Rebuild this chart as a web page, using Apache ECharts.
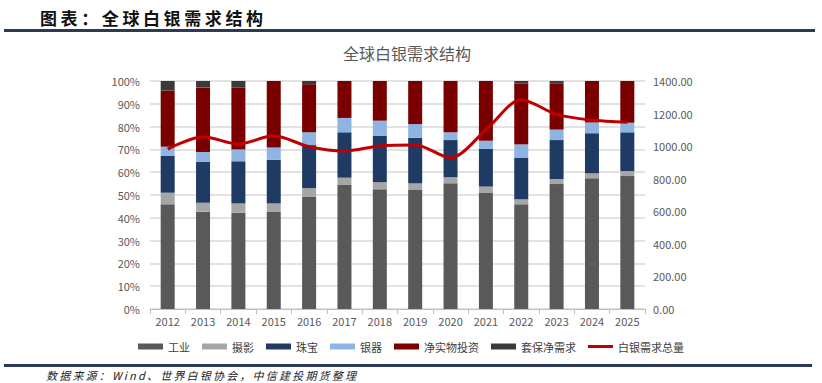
<!DOCTYPE html>
<html><head><meta charset="utf-8">
<script src="https://cdn.jsdelivr.net/npm/echarts@6/dist/echarts.min.js"></script>
<style>
html,body{margin:0;padding:0;background:#fff;}
#wrap{position:relative;width:822px;height:383px;overflow:hidden;}
#chart{position:absolute;left:0;top:0;width:822px;height:383px;}
#hdr{position:absolute;left:40px;top:6px;font-family:"Noto Sans CJK SC";font-weight:bold;font-size:17px;letter-spacing:3.6px;color:#111;line-height:24px;}
#hline{position:absolute;left:4px;top:29px;width:811px;height:3px;background:#2b3a57;}
#fline{position:absolute;left:4px;top:364px;width:808px;height:3px;background:#2b3a57;}
#src{position:absolute;left:46px;top:367px;font-family:"Noto Sans CJK SC";font-style:italic;font-size:11px;letter-spacing:2.2px;color:#222;line-height:16px;}
</style></head>
<body><div id="wrap">
<div id="chart"></div>
<div id="hdr">图表：全球白银需求结构</div>
<div id="hline"></div>
<div id="fline"></div>
<div id="src">数据来源：Wind、世界白银协会，中信建投期货整理</div>
</div>
<script>
const years = ['2012','2013','2014','2015','2016','2017','2018','2019','2020','2021','2022','2023','2024','2025'];
const industrial = [45.9,42.7,42.2,42.8,49.3,54.4,52.5,52.2,55.1,51.1,45.9,54.8,57.3,58.3];
const photography = [5.1,3.9,4.1,3.5,3.7,3.2,3.1,2.9,2.7,2.6,2.2,2.2,2.2,2.2];
const jewelry = [16.1,18.0,18.5,19.1,18.9,19.9,20.3,20.0,16.3,16.5,18.3,17.1,17.6,17.0];
const silverware = [4.1,4.3,5.2,5.4,5.6,6.3,6.7,6.0,3.4,3.6,5.8,4.6,4.7,4.2];
const netInvestment = [24.6,28.3,27.2,29.2,21.1,16.2,17.4,18.9,22.5,26.2,26.6,20.3,18.2,18.3];
const hedging = [4.2,2.8,2.8,0,1.4,0,0,0,0,0,1.2,1.0,0,0];
const totalDemand = [982,1058,1013,1064,996,970,1001,1007,929,1099,1285,1195,1160,1146];

const chart = echarts.init(document.getElementById('chart'), null, {renderer:'svg'});
const font = '"Noto Sans CJK SC", sans-serif';
function bar(name, data, color){
  return {name, type:'bar', stack:'s', data, barWidth:14, itemStyle:{color}, yAxisIndex:0};
}
const lineIcon = 'path://M0,0L25,0L25,0.01ZM0,1.6L25,1.6L25,4.4L0,4.4ZM0,6L25,6L25,5.99Z';
chart.setOption({
  animation:false,
  textStyle:{fontFamily:font},
  title:{text:'全球白银需求结构', left:402, top:40, textAlign:'center',
    textStyle:{fontSize:16, fontWeight:'normal', color:'#595959', fontFamily:font}},
  grid:{left:150, right:177, top:81, bottom:74, containLabel:false},
  legend:{bottom:26, left:'center', itemWidth:25, itemHeight:6, itemGap:12,
    textStyle:{fontSize:11, color:'#404040', fontFamily:font},
    data:[
      {name:'工业', icon:'rect'},{name:'摄影', icon:'rect'},{name:'珠宝', icon:'rect'},
      {name:'银器', icon:'rect'},{name:'净实物投资', icon:'rect'},{name:'套保净需求', icon:'rect'},
      {name:'白银需求总量', icon:lineIcon}]},
  xAxis:{type:'category', data:years, boundaryGap:true,
    axisLine:{lineStyle:{color:'#bfbfbf'}},
    axisTick:{show:true, lineStyle:{color:'#bfbfbf'}},
    axisLabel:{fontSize:11, color:'#595959', margin:6}},
  yAxis:[
    {type:'value', min:0, max:100, interval:10,
      axisLabel:{formatter:'{value}%', fontSize:11, color:'#595959', margin:10},
      axisLine:{show:false}, axisTick:{show:false},
      splitLine:{lineStyle:{color:'#d9d9d9', width:1.5}}},
    {type:'value', min:0, max:1400, interval:200, position:'right',
      axisLabel:{formatter:v=>v.toFixed(2), fontSize:11, color:'#595959', margin:8},
      axisLine:{show:false}, axisTick:{show:false}, splitLine:{show:false}}
  ],
  series:[
    bar('工业', industrial, '#595959'),
    bar('摄影', photography, '#a6a6a6'),
    bar('珠宝', jewelry, '#1f3b63'),
    bar('银器', silverware, '#8eb4e3'),
    bar('净实物投资', netInvestment, '#7a0000'),
    bar('套保净需求', hedging, '#3a3a3a'),
    {name:'白银需求总量', type:'line', yAxisIndex:1, data:totalDemand, smooth:0.3,
      showSymbol:false, symbol:'none', lineStyle:{color:'#c00000', width:3}, itemStyle:{color:'#c00000'}, z:5}
  ]
});
</script></body></html>
